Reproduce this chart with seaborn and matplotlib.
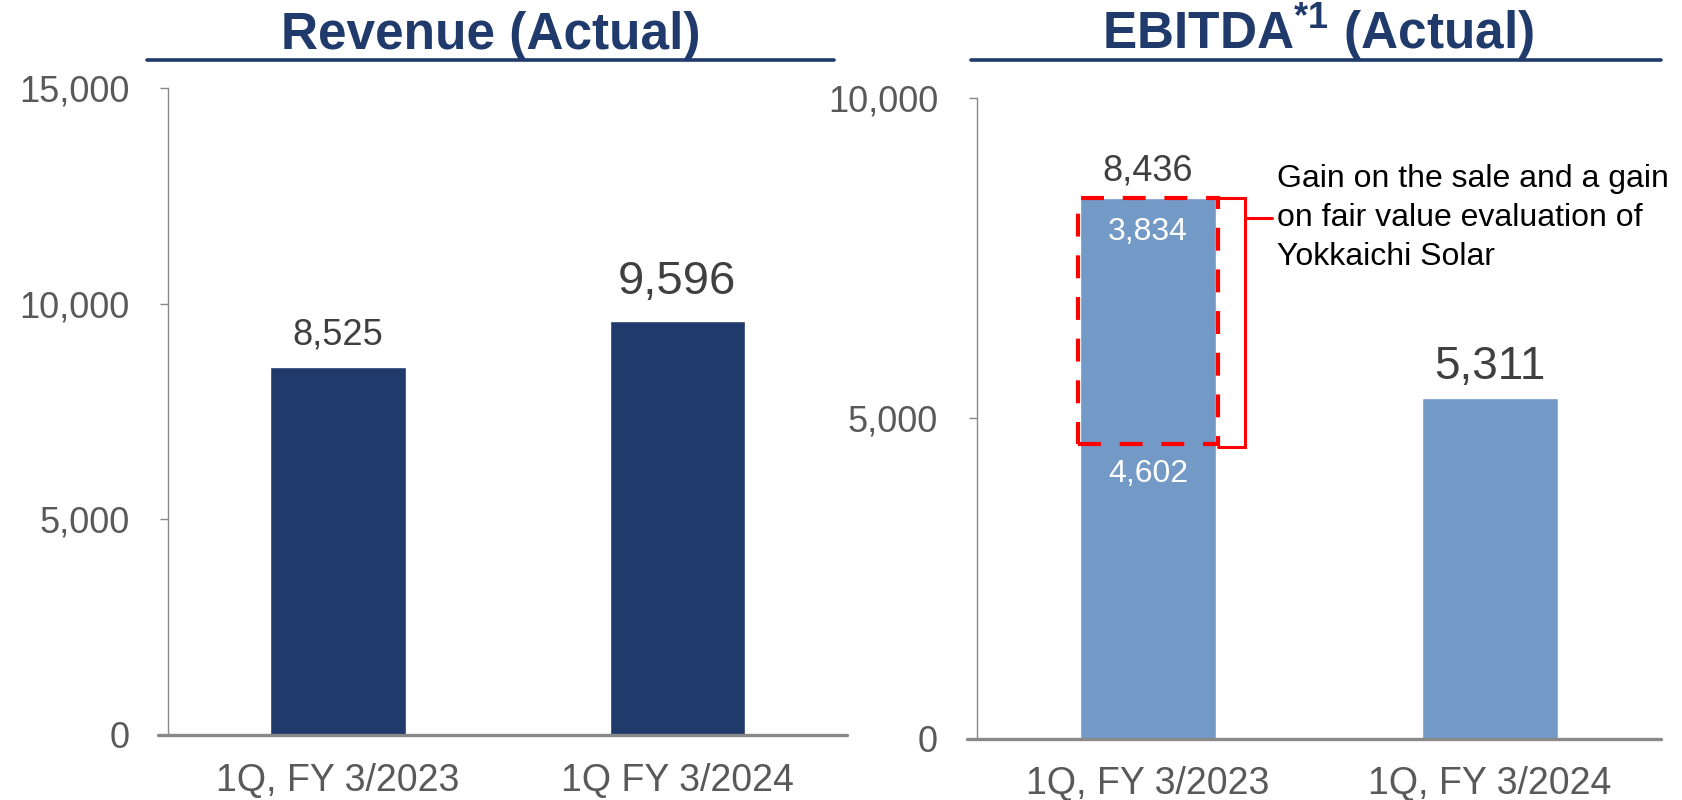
import matplotlib
matplotlib.use("Agg")
import matplotlib.pyplot as plt
import seaborn as sns
import pandas as pd
from matplotlib.lines import Line2D
from matplotlib.patches import Rectangle

# ---- data ----
rev_categories = ["1Q, FY 3/2023", "1Q FY 3/2024"]
rev_values = [8525, 9596]
ebitda_categories = ["1Q, FY 3/2023", "1Q, FY 3/2024"]
ebitda_values = [8436, 5311]
ebitda_base_2023 = 4602
ebitda_gain_2023 = 3834
rev_ticks = [0, 5000, 10000, 15000]
ebitda_ticks = [0, 5000, 10000]
annotation_text = "Gain on the sale and a gain\non fair value evaluation of\nYokkaichi Solar"

sns.set_style("white")
plt.rcParams["font.family"] = ["Liberation Sans", "DejaVu Sans"]
plt.rcParams["mathtext.fontset"] = "custom"
plt.rcParams["mathtext.rm"] = "Liberation Sans"
plt.rcParams["mathtext.bf"] = "Liberation Sans:bold"

NAVY = "#1F3A6B"
LIGHT = "#7399C6"
TICKC = "#595959"
LABELC = "#404040"
AXC = "#898989"

W, H = 1683, 800
fig = plt.figure(figsize=(W / 100, H / 100), dpi=100)

def fx(px):
    return px / W

def fy(py):
    return 1 - py / H

ax1 = fig.add_axes([fx(168.5), fy(735), fx(847) - fx(168.5), fy(88) - fy(735)])
ax2 = fig.add_axes([fx(977), fy(738.5), fx(1661) - fx(977), fy(97.7) - fy(738.5)])

df1 = pd.DataFrame({"cat": rev_categories, "val": rev_values})
df2 = pd.DataFrame({"cat": ebitda_categories, "val": ebitda_values})
sns.barplot(data=df1, x="cat", y="val", color=NAVY, width=0.40, saturation=1, ax=ax1)
sns.barplot(data=df2, x="cat", y="val", color=LIGHT, width=0.40, saturation=1, ax=ax2)

for ax, ticks in ((ax1, rev_ticks), (ax2, ebitda_ticks)):
    ax.set_xlim(-0.5, 1.5)
    ax.set_ylim(0, ticks[-1])
    ax.set_yticks(ticks)
    ax.set_yticklabels([f"{t:,}" for t in ticks])
    ax.set_xlabel("")
    ax.set_ylabel("")
    for s in ("top", "right", "bottom"):
        ax.spines[s].set_visible(False)
    ax.spines["left"].set_color(AXC)
    ax.spines["left"].set_linewidth(1.0)
    ax.tick_params(axis="y", length=6, width=1.0, color=AXC, direction="out",
                   labelsize=26, labelcolor=TICKC, pad=22, left=True)
    ax.tick_params(axis="x", length=0, labelsize=27, labelcolor=TICKC, pad=20)
    ax.axhline(0, xmin=-0.015, xmax=1.0, color=AXC, lw=2.4, clip_on=False, zorder=5)

# value labels
def pt(px):
    return px * 72 / 100

ax1.annotate(f"{rev_values[0]:,}", (0, rev_values[0]), xytext=(0, pt(32)), textcoords="offset points",
             ha="center", va="center", fontsize=26, color=LABELC)
ax1.annotate(f"{rev_values[1]:,}", (1, rev_values[1]), xytext=(0, pt(39)), textcoords="offset points",
             ha="center", va="center", fontsize=34, color=LABELC)
ax2.annotate(f"{ebitda_values[0]:,}", (0, ebitda_values[0]), xytext=(0, pt(27)), textcoords="offset points",
             ha="center", va="center", fontsize=26, color=LABELC)
ax2.annotate(f"{ebitda_values[1]:,}", (1, ebitda_values[1]), xytext=(0, pt(31)), textcoords="offset points",
             ha="center", va="center", fontsize=33, color=LABELC)
ax2.annotate(f"{ebitda_gain_2023:,}", (0, ebitda_values[0]), xytext=(0, -pt(34)), textcoords="offset points",
             ha="center", va="center", fontsize=23, color="white")
ax2.annotate(f"{ebitda_base_2023:,}", (0, ebitda_base_2023), xytext=(0, -pt(30)), textcoords="offset points",
             ha="center", va="center", fontsize=23, color="white")

# dashed box around the gain portion
half = 0.40 / 2 + 0.004
box = Rectangle((0 - half, ebitda_base_2023), 2 * half, ebitda_gain_2023, fill=False,
                edgecolor="#FF0000", lw=3.0, linestyle=(0, (5.5, 4.5)), zorder=6, joinstyle="miter")
ax2.add_patch(box)

# bracket
bx = 0.2836
top = ebitda_base_2023 + ebitda_gain_2023
ax2.plot([half, bx, bx, half], [top, top, ebitda_base_2023 - 50, ebitda_base_2023 - 50],
         color="#FF0000", lw=2.2, zorder=6, clip_on=False, solid_joinstyle="miter")
ytick = top - 0.08 * ebitda_gain_2023
ax2.plot([bx, bx + 0.08], [ytick, ytick], color="#FF0000", lw=2.2, zorder=6, clip_on=False)

ax2.annotate(annotation_text, (bx + 0.08, ytick), xytext=(fx(1277), fy(218)),
             textcoords="figure fraction", ha="left", va="center", fontsize=23,
             color="black", linespacing=1.39)

# titles
fig.text(fx(490.5), fy(49), "Revenue (Actual)", ha="center", va="baseline",
         fontsize=37, fontweight="bold", color=NAVY)
fig.text(fx(1318), fy(49), r"EBITDA$^{\mathbf{*1}}$ (Actual)", ha="center", va="baseline",
         fontsize=37, fontweight="bold", color=NAVY)
fig.add_artist(Line2D([fx(147), fx(834)], [fy(60), fy(60)], color=NAVY, lw=2.6))
fig.add_artist(Line2D([fx(971), fx(1661)], [fy(60), fy(60)], color=NAVY, lw=2.6))

fig.savefig("out.png", dpi=100)
